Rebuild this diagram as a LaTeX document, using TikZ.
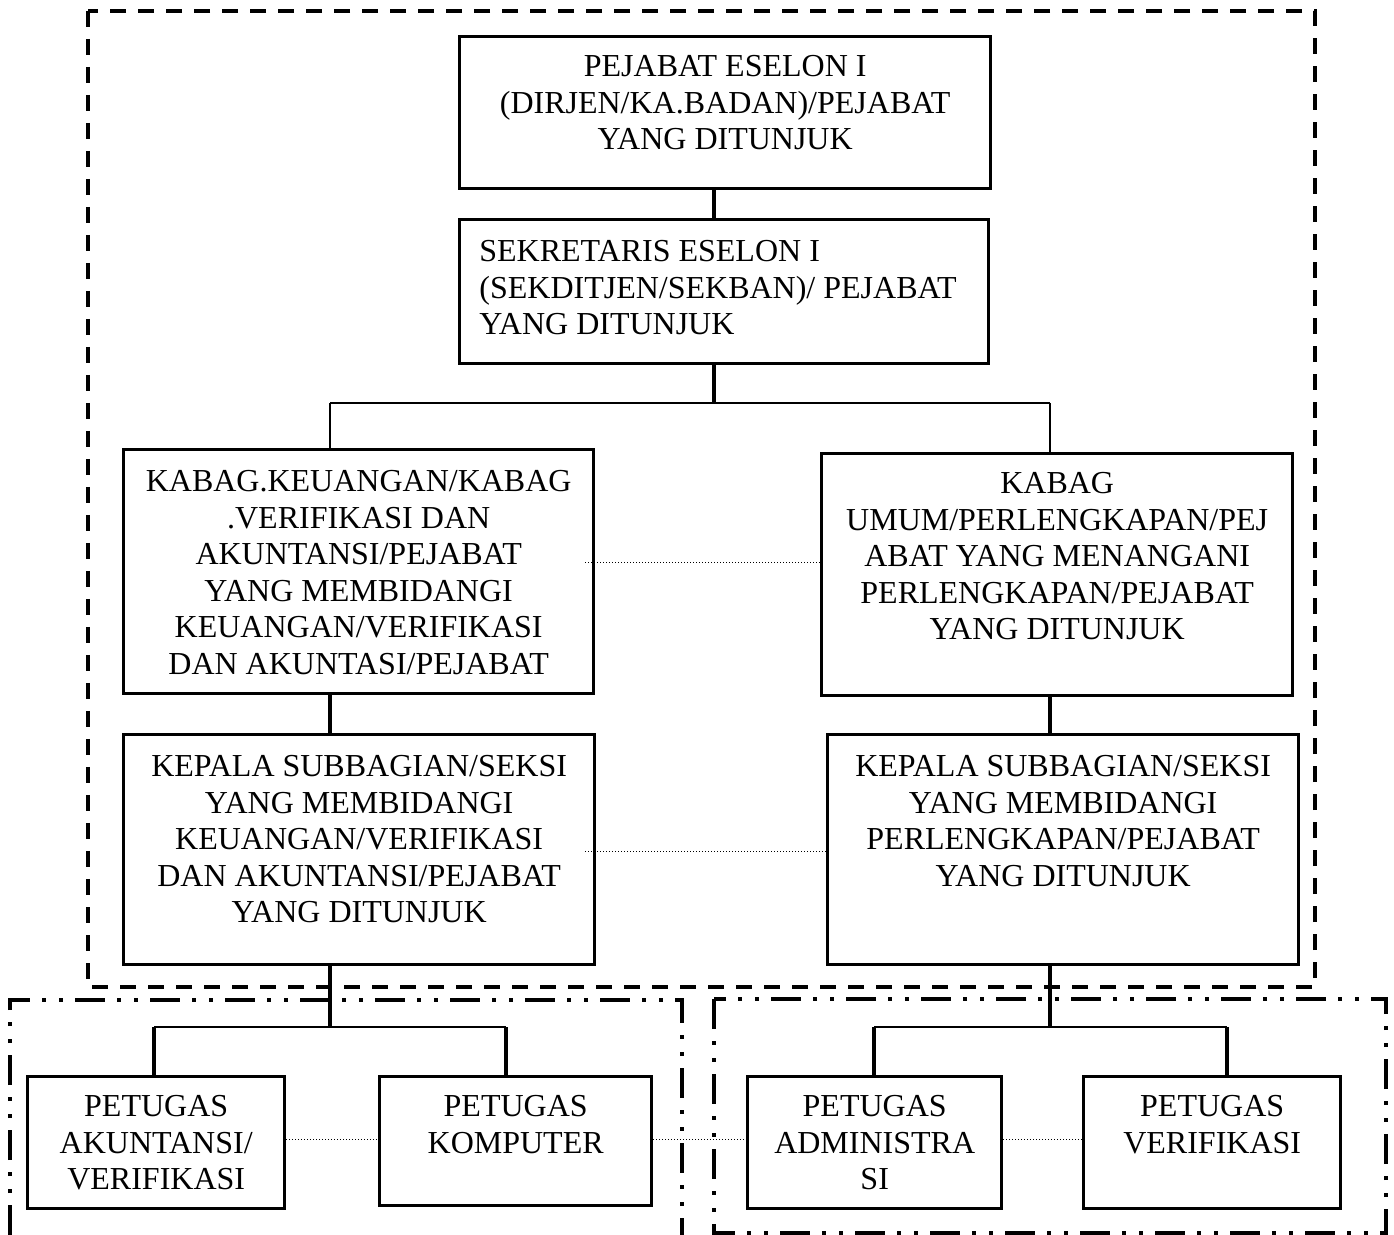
\documentclass[tikz,border=0pt]{standalone}
\usepackage{fontspec}
\setmainfont{Liberation Serif}
\usetikzlibrary{calc}
\begin{document}
\begin{tikzpicture}[x=0.5pt,y=-0.5pt,
  boxnode/.style={draw,line width=1.7pt,rectangle,inner sep=0pt,anchor=north west},
  txt/.style={inner sep=0pt,align=center,anchor=north,font=\fontsize{16pt}{18.25pt}\selectfont},
  txtl/.style={inner sep=0pt,align=left,anchor=north west,font=\fontsize{16pt}{18.25pt}\selectfont},
  thickline/.style={line width=1.7pt},
  thinline/.style={line width=0.9pt},
  dotline/.style={line width=0.5pt,dash pattern=on 0.5pt off 1pt},
  frameA/.style={line width=2pt,dash pattern=on 8pt off 6pt},
  frameB/.style={line width=2pt,dash pattern=on 15pt off 6pt on 2pt off 6.5pt on 2pt off 6pt}]
\useasboundingbox (0,0) rectangle (1394,1235);

% frames
\draw[frameA] (88,11) rectangle (1315,987);
\draw[frameB] (10,1235) -- (10,1000) -- (682,1000) -- (682,1235);
\draw[frameB] (714,999) rectangle (1386,1233);

% boxes
\node[boxnode, minimum width=265.5pt, minimum height=76pt] (b1) at (458,35) {};
\node[boxnode, minimum width=264.5pt, minimum height=72pt] (b2) at (458,218) {};
\node[boxnode, minimum width=235pt, minimum height=122pt] (b3l) at (122,448) {};
\node[boxnode, minimum width=235.5pt, minimum height=121pt] (b3r) at (820,452) {};
\node[boxnode, minimum width=235.5pt, minimum height=115pt] (b4l) at (122,733) {};
\node[boxnode, minimum width=235.5pt, minimum height=115pt] (b4r) at (826,733) {};
\node[boxnode, minimum width=128.5pt, minimum height=66pt] (p1) at (26,1075) {};
\node[boxnode, minimum width=136pt, minimum height=64.5pt] (p2) at (378,1075) {};
\node[boxnode, minimum width=127pt, minimum height=66pt] (p3) at (746,1075) {};
\node[boxnode, minimum width=128.5pt, minimum height=66pt] (p4) at (1082,1075) {};

% texts
\node[txt] (t1) at ($(b1.north)+(0,20)$) {PEJABAT ESELON I\\(DIRJEN/KA.BADAN)/PEJABAT\\YANG DITUNJUK};
\node[txtl] (t2) at ($(b2.north west)+(21,22)$) {SEKRETARIS ESELON I\\(SEKDITJEN/SEKBAN)/ PEJABAT\\YANG DITUNJUK};
\node[txt] (t3l) at ($(b3l.north)+(0,22)$) {KABAG.KEUANGAN/KABAG\\.VERIFIKASI DAN\\AKUNTANSI/PEJABAT\\YANG MEMBIDANGI\\KEUANGAN/VERIFIKASI\\DAN AKUNTASI/PEJABAT};
\node[txt] (t3r) at ($(b3r.north)+(0,20)$) {KABAG\\UMUM/PERLENGKAPAN/PEJ\\ABAT YANG MENANGANI\\PERLENGKAPAN/PEJABAT\\YANG DITUNJUK};
\node[txt] (t4l) at ($(b4l.north)+(0,22)$) {KEPALA SUBBAGIAN/SEKSI\\YANG MEMBIDANGI\\KEUANGAN/VERIFIKASI\\DAN AKUNTANSI/PEJABAT\\YANG DITUNJUK};
\node[txt] (t4r) at ($(b4r.north)+(0,22)$) {KEPALA SUBBAGIAN/SEKSI\\YANG MEMBIDANGI\\PERLENGKAPAN/PEJABAT\\YANG DITUNJUK};
\node[txt] (tp1) at ($(p1.north)+(0,20)$) {PETUGAS\\AKUNTANSI/\\VERIFIKASI};
\node[txt] (tp2) at ($(p2.north)+(0,20)$) {PETUGAS\\KOMPUTER};
\node[txt] (tp3) at ($(p3.north)+(0,20)$) {PETUGAS\\ADMINISTRA\\SI};
\node[txt] (tp4) at ($(p4.north)+(0,20)$) {PETUGAS\\VERIFIKASI};

% junction coordinates
\coordinate (j0) at (714,403);
\coordinate (cL) at (330,403);
\coordinate (cR) at (1050,403);
\coordinate (dL) at (330,1027);
\coordinate (dR) at (1050,1027);
\coordinate (k1) at (154,1027);
\coordinate (k2) at (506,1027);
\coordinate (k3) at (874,1027);
\coordinate (k4) at (1227,1027);

% connectors
\draw[thickline] (b1.south -| j0) -- (b2.north -| j0);
\draw[thickline] (b2.south -| j0) -- (j0);
\draw[thinline] (cL) -- (cR);
\draw[thinline] (cL) -- (cL |- b3l.north);
\draw[thinline] (cR) -- (cR |- b3r.north);
\draw[thickline] (cL |- b3l.south) -- (cL |- b4l.north);
\draw[thickline] (cR |- b3r.south) -- (cR |- b4r.north);
\draw[thickline] (dL |- b4l.south) -- (dL);
\draw[thickline] (dR |- b4r.south) -- (dR);
\draw[thinline] (k1) -- (k2);
\draw[thinline] (k3) -- (k4);
\draw[thickline] (k1) -- (k1 |- p1.north);
\draw[thickline] (k2) -- (k2 |- p2.north);
\draw[thickline] (k3) -- (k3 |- p3.north);
\draw[thickline] (k4) -- (k4 |- p4.north);

% dotted links
\coordinate (m1) at (585,563);
\coordinate (m2) at (585,851);
\coordinate (m3) at (283,1139);
\coordinate (m4) at (650,1139);
\coordinate (m5) at (1000,1139);
\draw[dotline] (m1) -- (m1 -| b3r.west);
\draw[dotline] (m2) -- (m2 -| b4r.west);
\draw[dotline] (m3) -- (m3 -| p2.west);
\draw[dotline] (m4) -- (m4 -| p3.west);
\draw[dotline] (m5) -- (m5 -| p4.west);
\end{tikzpicture}
\end{document}
